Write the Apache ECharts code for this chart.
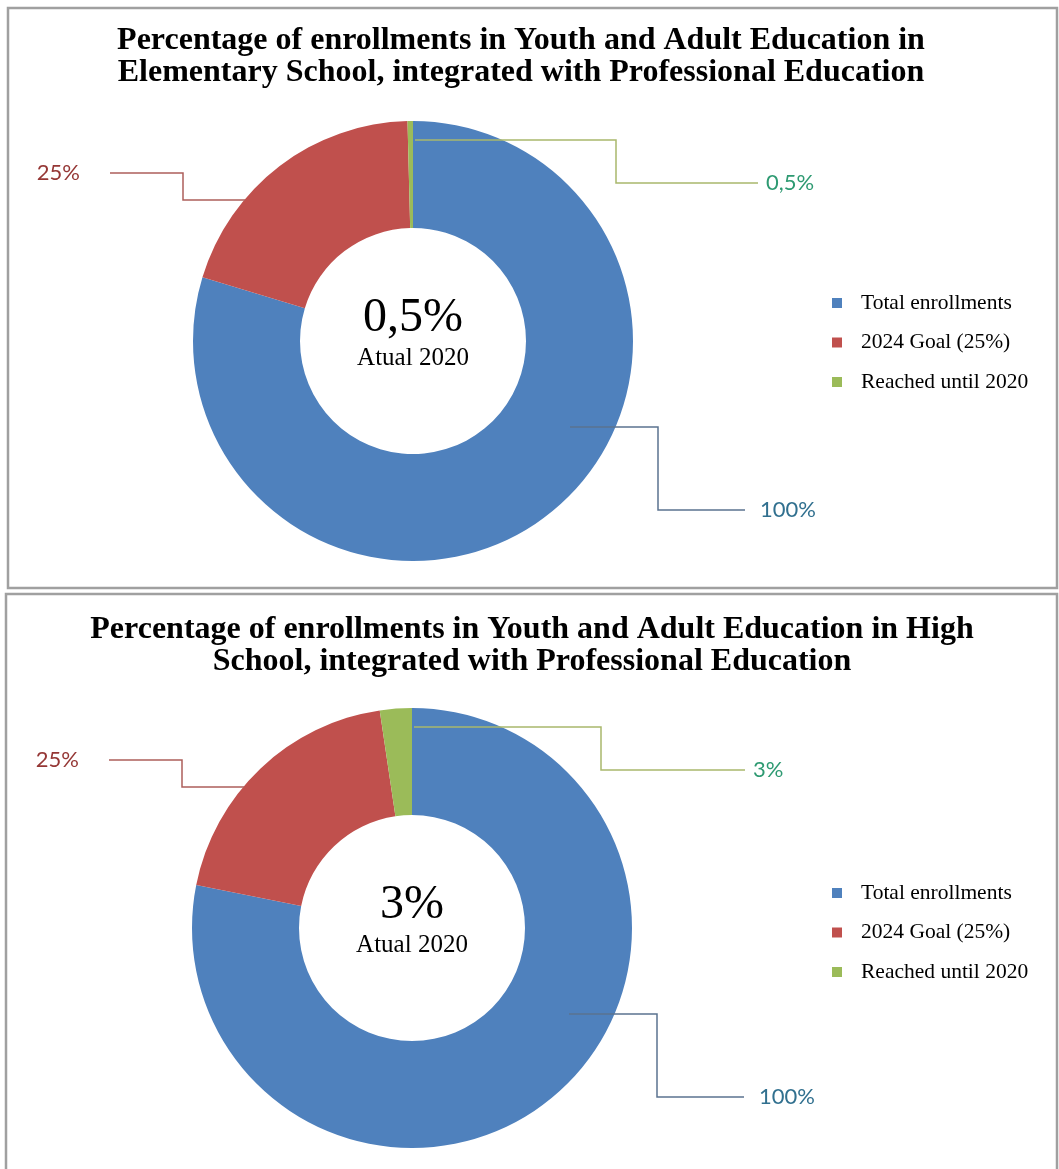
<!DOCTYPE html>
<html>
<head>
<meta charset="utf-8">
<title>EJA integrated with Professional Education</title>
<script src="https://cdn.jsdelivr.net/npm/echarts@6/dist/echarts.min.js"></script>
<style>
  html, body { margin: 0; padding: 0; background: #fff; }
  #chart { width: 1059px; height: 1169px; }
</style>
</head>
<body>
<div id="chart"></div>
<script>
// 数据
const categories = ['Total enrollments', '2024 Goal (25%)', 'Reached until 2020'];
const elementaryValues = [100, 25, 0.5];
const highSchoolValues = [100, 25, 3];
const chartTitles = [
  'Percentage of enrollments in Youth and Adult Education in\nElementary School, integrated with Professional Education',
  'Percentage of enrollments in Youth and Adult Education in High\nSchool, integrated with Professional Education'
];
const centerCaption = 'Atual 2020';

// 颜色
const sliceColors = ['#4f81bd', '#c0504d', '#9bbb59'];
const labelColors = ['#31708f', '#953735', '#2e9a72'];
const leaderColors = ['#5b7390', '#ad5f5b', '#a9b86c'];

// 两个面板的布局（页面像素）
const panels = [
  { values: elementaryValues, box: [8, 8, 1049, 580], center: [413, 341], titleX: 521, titleY: 25, legendTop: 292, greenElbow: 203, greenEnd: 345 },
  { values: highSchoolValues, box: [6, 594, 1051, 600], center: [412, 928], titleX: 532, titleY: 614, legendTop: 882, greenElbow: 189, greenEnd: 333 }
];

// 引导线折点，相对于圆心
function leaders(p) {
  return [
    { from: [157, 86], elbow: 245, y: 169, end: 332, label: 347, align: 'left' },
    { from: [-168, -141], elbow: -230, y: -168, end: -303, label: -333, align: 'right' },
    { from: [2, -201], elbow: p.greenElbow, y: -158, end: p.greenEnd, label: p.greenEnd + 8, align: 'left' }
  ];
}

function fmt(v) {
  return String(v).replace('.', ',') + '%';
}

const chart = echarts.init(document.getElementById('chart'));

const series = [];
panels.forEach(function (p) {
  const guide = leaders(p);
  const base = {
    type: 'pie',
    radius: [113, 220],
    center: p.center,
    startAngle: 90,
    clockwise: true,
    avoidLabelOverlap: false,
    silent: true,
    emphasis: { disabled: true }
  };
  // 有颜色的圆环
  series.push(Object.assign({}, base, {
    z: 2,
    label: { show: false },
    labelLine: { show: false },
    data: categories.map(function (name, i) {
      return { name: name, value: p.values[i], itemStyle: { color: sliceColors[i] } };
    })
  }));
  // 透明的一层，只负责标签和引导线（画在圆环上面）
  series.push(Object.assign({}, base, {
    z: 3,
    itemStyle: { color: 'rgba(0,0,0,0)' },
    label: {
      show: true,
      position: 'outside',
      fontFamily: 'Lato',
      fontSize: 22,
      formatter: function (params) { return fmt(params.value); }
    },
    labelLine: { show: true, lineStyle: { width: 1.5 } },
    labelLayout: function (params) {
      const g = guide[params.dataIndex];
      const cx = p.center[0], cy = p.center[1];
      const y = cy + g.y;
      return {
        x: cx + g.label,
        y: y,
        align: g.align,
        verticalAlign: 'middle',
        labelLinePoints: [
          [cx + g.from[0], cy + g.from[1]],
          [cx + g.elbow, cy + g.from[1]],
          [cx + g.elbow, y],
          [cx + g.end, y]
        ]
      };
    },
    data: categories.map(function (name, i) {
      return {
        name: name,
        value: p.values[i],
        label: { color: labelColors[i] },
        labelLine: { lineStyle: { color: leaderColors[i] } }
      };
    })
  }));
});

const graphics = [];
panels.forEach(function (p) {
  graphics.push({
    type: 'rect',
    shape: { x: p.box[0], y: p.box[1], width: p.box[2], height: p.box[3] },
    style: { fill: 'none', stroke: '#a0a0a0', lineWidth: 2.5 },
    silent: true
  });
  graphics.push({
    type: 'text',
    x: p.center[0], y: p.center[1] - 23,
    style: { text: fmt(p.values[2]), fontFamily: 'Liberation Serif', fontSize: 48, fill: '#000', align: 'center', verticalAlign: 'middle' }
  });
  graphics.push({
    type: 'text',
    x: p.center[0], y: p.center[1] + 17,
    style: { text: centerCaption, fontFamily: 'Liberation Serif', fontSize: 25, fill: '#000', align: 'center', verticalAlign: 'middle' }
  });
});

chart.setOption({
  backgroundColor: '#fff',
  animation: false,
  color: sliceColors,
  title: panels.map(function (p, k) {
    return {
      text: chartTitles[k],
      left: p.titleX,
      top: p.titleY,
      padding: 0,
      textAlign: 'center',
      textStyle: { fontFamily: 'Liberation Serif', fontWeight: 'bold', fontSize: 32, lineHeight: 32, color: '#000' }
    };
  }),
  legend: panels.map(function (p, k) {
    return {
      orient: 'vertical',
      left: 832,
      top: p.legendTop,
      padding: 0,
      icon: 'rect',
      itemWidth: 10,
      itemHeight: 10,
      itemGap: 17.5,
      selectedMode: false,
      data: categories.map(function (name, i) {
        return { name: name, itemStyle: { color: sliceColors[i] } };
      }),
      textStyle: { fontFamily: 'Liberation Serif', fontSize: 21.5, color: '#000', padding: [0, 0, 0, 14] }
    };
  }),
  graphic: graphics,
  series: series
});
</script>
</body>
</html>
